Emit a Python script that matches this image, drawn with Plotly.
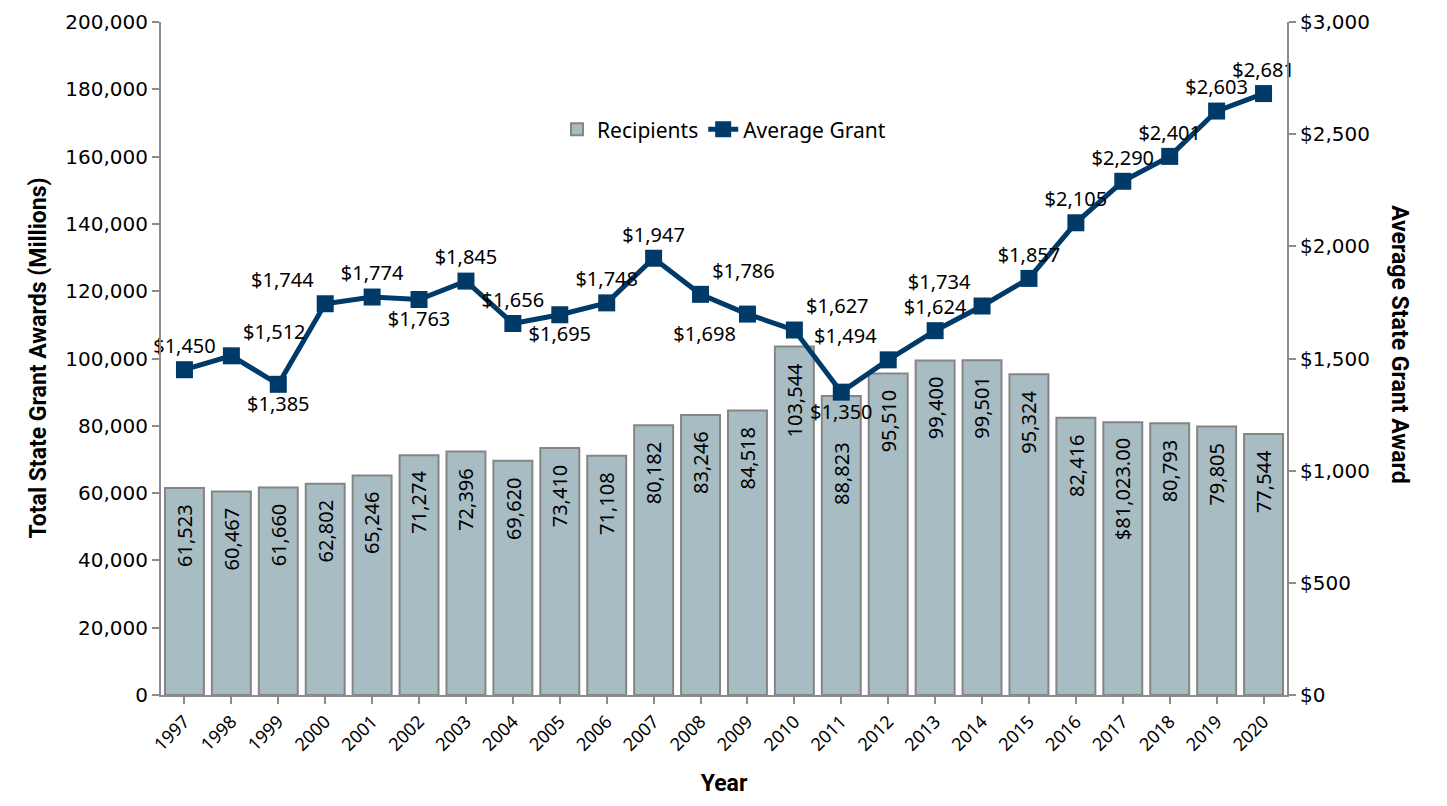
import plotly.graph_objects as go

years = [str(y) for y in range(1997, 2021)]
recipients = [61523, 60467, 61660, 62802, 65246, 71274, 72396, 69620, 73410, 71108,
              80182, 83246, 84518, 103544, 88823, 95510, 99400, 99501, 95324, 82416,
              81023, 80793, 79805, 77544]
recipient_labels = [f"{v:,}" for v in recipients]
recipient_labels[20] = "$81,023.00"
avg_grant = [1450, 1512, 1385, 1744, 1774, 1763, 1845, 1656, 1695, 1748,
             1947, 1786, 1698, 1627, 1350, 1494, 1624, 1734, 1857, 2105,
             2290, 2401, 2603, 2681]
grant_labels = [f"${v:,}" for v in avg_grant]
label_pos = ["top center", "top right", "bottom center", "top left", "top center",
             "bottom center", "top center", "top center", "bottom center", "top center",
             "top center", "top right", "bottom left", "top right", "bottom center",
             "top left", "top center", "top left", "top center", "top center",
             "top center", "top center", "top center", "top center"]

font = "Noto Sans"
title_font = dict(family="Roboto", size=23, color="black")
navy = "#003a68"

fig = go.Figure()
fig.add_trace(go.Bar(
    x=years, y=recipients, name="Recipients",
    marker=dict(color="#a7bcc3", line=dict(color="#858585", width=2)),
))
fig.add_trace(go.Scatter(
    x=years, y=avg_grant, name="Average Grant", yaxis="y2",
    mode="lines+markers+text",
    line=dict(color=navy, width=5),
    marker=dict(symbol="square", size=17, color=navy),
    text=grant_labels, textposition=label_pos,
    textfont=dict(family=font, size=20, color="black"),
    cliponaxis=False,
))

# bar value labels, rotated, just inside the top of each bar
annotations = []
for i, (yr, val, lab) in enumerate(zip(years, recipients, recipient_labels)):
    shift = -44 if yr == "2011" else -14
    annotations.append(dict(x=i, y=val, xref="x", yref="y", text=lab, textangle=-90,
                            yanchor="top", yshift=shift, showarrow=False,
                            font=dict(family=font, size=20, color="black")))

annotations += [
    dict(text="<b>Average State Grant Award</b>", textangle=90,
         x=1.114, y=0.52, xref="paper", yref="paper", showarrow=False, font=title_font),
    dict(text="<b>Total State Grant Awards (Millions)</b>", textangle=-90,
         x=-0.123, y=0.5, xref="paper", yref="paper", showarrow=False, font=title_font),
]

axis_common = dict(showgrid=False, showline=True, linecolor="#8c8c8c", linewidth=2,
                   ticks="outside", tickcolor="#8c8c8c", ticklen=7, tickwidth=2,
                   tickfont=dict(family="DejaVu Sans", size=20, color="black"),
                   zeroline=False, automargin=False)

fig.update_layout(
    width=1447, height=806,
    margin=dict(l=153, r=168, t=14, b=119),
    plot_bgcolor="white", paper_bgcolor="white",
    bargap=0.17,
    showlegend=True,
    legend=dict(orientation="h", x=0.5, y=0.84, xanchor="center", yanchor="middle",
                font=dict(family=font, size=21, color="black"), bgcolor="rgba(0,0,0,0)"),
    xaxis=dict(type="category", range=[-0.5, 23.5], showline=True, linecolor="#8c8c8c",
               linewidth=2, ticks="outside", tickcolor="#8c8c8c", ticklen=7, tickwidth=2,
               tickangle=-45, tickfont=dict(family=font, size=18, color="black"),
               automargin=False,
               title=dict(text="<b>Year</b>", font=title_font, standoff=20)),
    yaxis=dict(range=[0, 200000], dtick=20000, tickformat=",", **axis_common),
    yaxis2=dict(range=[0, 3000], dtick=500, tickprefix="$", tickformat=",",
                overlaying="y", side="right", **axis_common),
    annotations=annotations,
)

fig.write_html("out.html")
